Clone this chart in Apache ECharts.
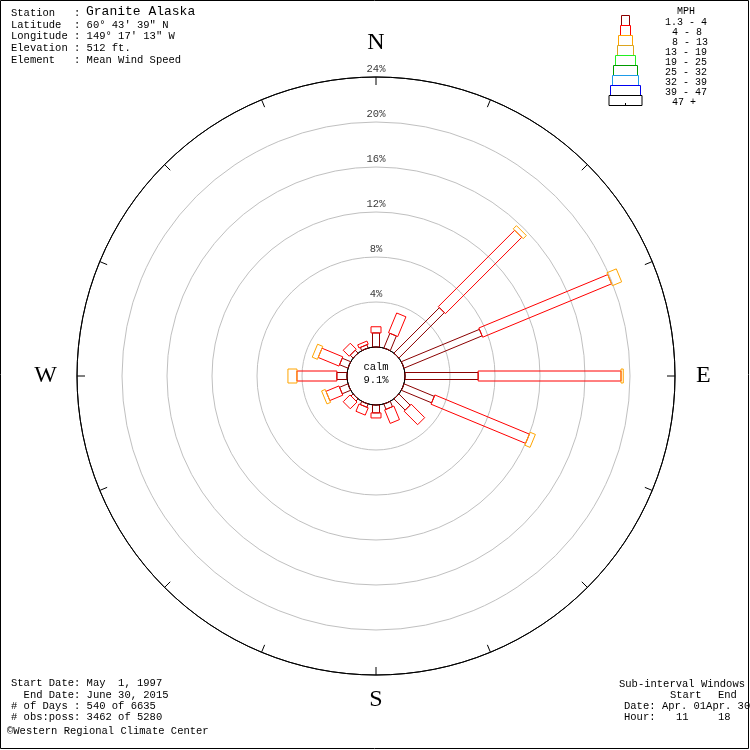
<!DOCTYPE html>
<html>
<head>
<meta charset="utf-8">
<script src="https://cdn.jsdelivr.net/npm/echarts@6/dist/echarts.min.js"></script>
<style>
html,body{margin:0;padding:0;background:#fff;}
#chart{width:750px;height:750px;}
</style>
</head>
<body>
<div id="chart"></div>
<script>
// ---- data ----
const directions = ['N','NNE','NE','ENE','E','ESE','SE','SSE','S','SSW','SW','WSW','W','WNW','NW','NNW'];
const directionAngles = [0,22.5,45,67.5,90,112.5,135,157.5,180,202.5,225,247.5,270,292.5,315,337.5];
const speedClasses = ['1.3 - 4','4 - 8','8 - 13','13 - 19','19 - 25','25 - 32','32 - 39','39 - 47','47 +'];
// percent of observations per direction, per speed class
const pct_1_3_to_4 = [1.25,1.4,5.7,7.5,6.5,2.9,1.4,0.5,0.7,0.3,0.25,0.8,0.9,0.8,0.35,0.3];
const pct_4_to_8   = [0.55,1.9,9.6,12.4,12.7,9.1,1.7,1.3,0.45,0.7,0.85,1.25,3.55,2.0,0.75,0.3];
const pct_8_to_13  = [0,0,0.4,0.9,0.2,0.5,0,0,0,0,0,0.35,0.8,0.5,0,0];
const calmPct = 9.1;
const radiusTicks = [4,8,12,16,20,24];
const compassLabels = {0:'N',90:'E',180:'S',270:'W'};

// ---- styles ----
const classColors = ['#8b0000','#ff0000','#ffa500','#daa520','#22ee22','#009900','#1e9be8','#0000ee','#000000'];
const barWidths = [7,10,14,16,20,24,26,30,33];
const legendWidths = [8,10,14,16,20,24,26,30,33];
const mono = 'Liberation Mono';

const classData = [pct_1_3_to_4, pct_4_to_8, pct_8_to_13];
const segments = [];
for (let c = 0; c < classData.length; c++) {
  for (let d = 0; d < directions.length; d++) {
    let start = 0;
    for (let k = 0; k < c; k++) start += classData[k][d];
    const v = classData[c][d];
    if (v > 0) segments.push([directionAngles[d], start, start + v, c]);
  }
}

const chart = echarts.init(document.getElementById('chart'), null, {renderer:'canvas'});

function txt(x, y, s, size, align) {
  return {
    type:'text', x:x, y:y, z:100,
    style:{text:s, fill:'#000', font: size + 'px "' + mono + '"', textVerticalAlign:'middle', textAlign:align || 'left'}
  };
}

const graphics = [];
// frame
graphics.push({type:'rect', z:200, shape:{x:0.5,y:0.5,width:748,height:748}, style:{fill:'none', stroke:'#000', lineWidth:1}});
// header
const headLines = ['Station   : ', 'Latitude  : 60° 43\' 39" N', 'Longitude : 149° 17\' 13" W', 'Elevation : 512 ft.', 'Element   : Mean Wind Speed'];
const headY = [13,25,36,48,60];
headLines.forEach((s,i)=>graphics.push(txt(11, headY[i], s, 10.5)));
graphics.push(txt(86, 12, 'Granite Alaska', 13));
// footer left
const footLines = ['Start Date: May  1, 1997', '  End Date: June 30, 2015', '# of Days : 540 of 6635', '# obs:poss: 3462 of 5280'];
const footY = [683,695,706,717];
footLines.forEach((s,i)=>graphics.push(txt(11, footY[i], s, 10.5)));
graphics.push(txt(7, 731, '©Western Regional Climate Center', 10.5));
// footer right
graphics.push(txt(619, 684, 'Sub-interval Windows', 10.5));
graphics.push(txt(670, 695, 'Start', 10.5));
graphics.push(txt(718, 695, 'End', 10.5));
graphics.push(txt(624, 706, 'Date:', 10.5));
graphics.push(txt(662, 706, 'Apr. 01Apr. 30', 10.5));
graphics.push(txt(624, 717, 'Hour:', 10.5));
graphics.push(txt(676, 717, '11', 10.5));
graphics.push(txt(718, 717, '18', 10.5));
// calm
graphics.push(txt(376, 367, 'calm', 10.5, 'center'));
graphics.push(txt(376, 380, calmPct.toFixed(1)+'%', 10.5, 'center'));
// legend
graphics.push(txt(686, 11, 'MPH', 10, 'center'));
const legendLabelX = [665,672,672,665,665,665,665,665,672];
speedClasses.forEach((s,i)=>{
  const w = legendWidths[i];
  graphics.push({type:'rect', z:100, shape:{x:625.5 - w/2, y:15.5 + i*10, width:w, height:10}, style:{fill:'#fff', stroke:classColors[i], lineWidth:1}});
  graphics.push(txt(legendLabelX[i], 22 + i*10, s, 10));
});
graphics.push({type:'line', z:101, shape:{x1:625.5,y1:103,x2:625.5,y2:106}, style:{stroke:'#000', lineWidth:1}});

const option = {
  backgroundColor:'#fff',
  animation:false,
  polar:{center:[376,376], radius:[29,299]},
  angleAxis:{
    type:'value', min:0, max:360, interval:22.5, startAngle:90, clockwise:true,
    axisLine:{show:true, lineStyle:{color:'#000', width:1}},
    axisTick:{show:true, inside:true, length:8, lineStyle:{color:'#000'}},
    splitLine:{show:false},
    axisLabel:{
      show:true, margin:12,
      formatter:function(v){ const l = compassLabels[v]; if(!l) return ''; return '{'+l.toLowerCase()+'|'+l+'}'; },
      rich:{
        n:{fontFamily:'Liberation Serif', fontSize:24, color:'#000', padding:[0,0,10,0]},
        e:{fontFamily:'Liberation Serif', fontSize:24, color:'#000', padding:[0,0,0,9]},
        s:{fontFamily:'Liberation Serif', fontSize:24, color:'#000', padding:[1,0,0,0]},
        w:{fontFamily:'Liberation Serif', fontSize:24, color:'#000', padding:[0,8,0,0]}
      }
    }
  },
  radiusAxis:{
    type:'value', min:0, max:24, interval:4,
    axisLine:{show:false}, axisTick:{show:false}, axisLabel:{show:false},
    splitLine:{show:true, lineStyle:{color:['#000','#c0c0c0','#c0c0c0','#c0c0c0','#c0c0c0','#c0c0c0','#000'], width:1}}
  },
  series:[
    {
      type:'custom', coordinateSystem:'polar',
      encode:{radius:2, angle:0},
      data:segments,
      z:5,
      renderItem:function(params, api){
        const ang = api.value(0), r0 = api.value(1), r1 = api.value(2), cls = api.value(3);
        const cs = params.coordSys;
        const p0 = api.coord([r0, ang]);
        const p1 = api.coord([r1, ang]);
        let dx = p1[0]-cs.cx, dy = p1[1]-cs.cy;
        const len = Math.sqrt(dx*dx+dy*dy) || 1;
        dx/=len; dy/=len;
        const nx = -dy, ny = dx, hw = barWidths[cls]/2;
        return {
          type:'polygon',
          shape:{points:[[p0[0]+nx*hw,p0[1]+ny*hw],[p1[0]+nx*hw,p1[1]+ny*hw],[p1[0]-nx*hw,p1[1]-ny*hw],[p0[0]-nx*hw,p0[1]-ny*hw]]},
          style:{fill:'none', stroke:classColors[cls], lineWidth:1}
        };
      }
    },
    {
      type:'scatter', coordinateSystem:'polar',
      encode:{radius:0, angle:1},
      data:radiusTicks.map(v=>[v,0]),
      symbolSize:1, itemStyle:{color:'rgba(0,0,0,0)'},
      silent:true,
      label:{show:true, position:'top', distance:2, color:'#000', fontFamily:mono, fontSize:10.5,
        formatter:function(p){return p.value[0]+'%';}}
    }
  ],
  graphic:graphics
};
chart.setOption(option);
</script>
</body>
</html>
